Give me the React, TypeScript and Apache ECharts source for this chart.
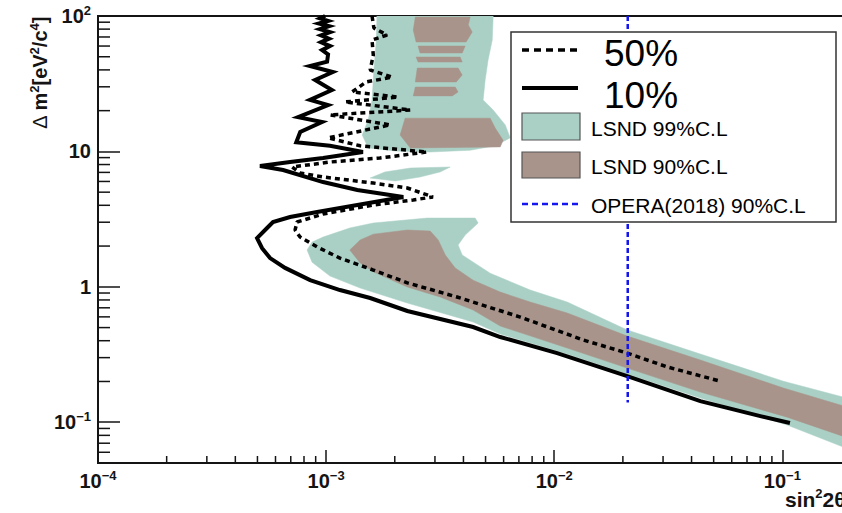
import React, { useEffect, useRef } from "react";
import * as echarts from "echarts";

// ---------- data (sin^2 2θ , Δm^2) ----------
const xMinorTicks = [2e-4, 3e-4, 4e-4, 5e-4, 6e-4, 7e-4, 8e-4, 9e-4, 2e-3, 3e-3, 4e-3, 5e-3, 6e-3, 7e-3, 8e-3, 9e-3, 0.02, 0.03, 0.04, 0.05, 0.06, 0.07, 0.08, 0.09];
const yMinorTicks = [0.06, 0.07, 0.08, 0.09, 0.2, 0.3, 0.4, 0.5, 0.6, 0.7, 0.8, 0.9, 2, 3, 4, 5, 6, 7, 8, 9, 20, 30, 40, 50, 60, 70, 80, 90];

const solid10: [number, number][] = [
  [9.9e-4, 100], [9.4e-4, 96], [1.02e-3, 92], [9.3e-4, 88], [1.03e-3, 84], [9.4e-4, 80], [1.04e-3, 76],
  [9.5e-4, 72], [1.03e-3, 68], [9.5e-4, 64], [1.04e-3, 60], [9.6e-4, 56], [1.02e-3, 52], [1.01e-3, 46],
  [8.5e-4, 42.7], [1.07e-3, 38.6], [8.95e-4, 33.7], [1.06e-3, 28.4], [8.5e-4, 24.0], [1.02e-3, 22.0],
  [7.54e-4, 17.9], [9.6e-4, 16.5], [7.7e-4, 13.9], [7.4e-4, 11.7], [1.04e-3, 11.0], [1.45e-3, 9.9],
  [9.7e-4, 8.94], [6.95e-4, 8.35], [5.13e-4, 7.8], [6.48e-4, 7.29], [9.7e-4, 5.94], [1.37e-3, 5.19],
  [2.18e-3, 4.61], [1.37e-3, 4.02], [9.13e-4, 3.57], [6.95e-4, 3.28], [5.85e-4, 3.01], [5.51e-4, 2.72],
  [4.98e-4, 2.29], [5.24e-4, 1.93], [5.68e-4, 1.63], [6.61e-4, 1.38], [8.51e-4, 1.12], [1.15e-3, 0.947],
  [1.56e-3, 0.827], [2.27e-3, 0.663], [4.41e-3, 0.505], [5.8e-3, 0.426], [0.0103, 0.324], [0.0209, 0.219],
  [0.0437, 0.143], [0.0801, 0.111], [0.108, 0.0987],
];

const dotted50: [number, number][] = [
  [1.59e-3, 100], [1.62e-3, 81.5], [1.85e-3, 72.4], [1.59e-3, 66.5], [1.61e-3, 51.5], [1.56e-3, 39.9],
  [1.95e-3, 35.4], [1.5e-3, 32.6], [1.3e-3, 27.5], [2.07e-3, 25.2], [1.21e-3, 23.2], [2.34e-3, 20.2],
  [1.04e-3, 18.6], [1.91e-3, 15.7], [1.02e-3, 12.6], [1.41e-3, 11.0], [2.77e-3, 9.9], [1.72e-3, 8.94],
  [1.04e-3, 8.35], [7.1e-4, 7.67], [7.69e-4, 6.93], [9.7e-4, 6.47], [1.61e-3, 5.84], [2.27e-3, 5.37],
  [2.94e-3, 4.61], [2.41e-3, 4.38], [1.61e-3, 4.02], [9.7e-4, 3.45], [7.46e-4, 3.01], [7.31e-4, 2.63],
  [7.69e-4, 2.33], [9.13e-4, 1.97], [1.15e-3, 1.63], [1.61e-3, 1.33], [2.27e-3, 1.07], [3.75e-3, 0.841],
  [7.1e-3, 0.598], [0.0134, 0.405], [0.0209, 0.324], [0.0313, 0.256], [0.0535, 0.201],
];

const lsnd99Top: [number, number][] = [
  [1.67e-3, 100], [5.4e-3, 100], [5.35e-3, 66.5], [5.13e-3, 47.3], [4.98e-3, 33.7], [4.88e-3, 24.0],
  [5.4e-3, 20.2], [6.1e-3, 15.7], [6.41e-3, 12.6], [5.51e-3, 11.0], [4.28e-3, 10.2], [2.86e-3, 9.9],
  [2.01e-3, 10.07], [1.53e-3, 10.6], [1.44e-3, 13.2], [1.53e-3, 17.1], [1.59e-3, 24.0], [1.62e-3, 39.9],
  [1.66e-3, 66.5],
];
const lsnd99Island: [number, number][] = [
  [1.56e-3, 6.36], [1.81e-3, 7.05], [2.34e-3, 7.54], [3.5e-3, 7.67], [3.16e-3, 7.05], [2.58e-3, 6.47], [2.01e-3, 6.05],
];
const lsnd99Main: [number, number][] = [
  [8.25e-4, 1.87], [8.68e-4, 2.14], [9.7e-4, 2.33], [1.27e-3, 2.72], [1.61e-3, 2.96], [2.77e-3, 3.22],
  [4.5e-3, 3.22], [4.64e-3, 2.96], [4.07e-3, 2.41], [3.79e-3, 2.04], [3.95e-3, 1.72], [5.24e-3, 1.26],
  [7.85e-3, 0.947], [0.0114, 0.772], [0.0209, 0.48], [0.0437, 0.319], [0.101, 0.201], [0.2, 0.148],
  [0.2, 0.0623], [0.105, 0.0954], [0.0437, 0.151], [0.0209, 0.227], [0.0114, 0.319], [5.8e-3, 0.448],
  [4.41e-3, 0.55], [2.27e-3, 0.759], [1.41e-3, 0.98], [1.04e-3, 1.2], [8.68e-4, 1.52],
];
const lsnd90Stripes: [number, number][][] = [
  [[2.46e-3, 98.3], [4.28e-3, 98.3], [4.2e-3, 85.8], [4.37e-3, 76.2], [4.11e-3, 64.3], [2.48e-3, 64.3], [2.41e-3, 78.8]],
  [[2.53e-3, 60.0], [4.07e-3, 60.0], [3.95e-3, 53.3], [2.58e-3, 53.3]],
  [[2.48e-3, 49.8], [3.87e-3, 49.8], [3.95e-3, 45.7], [2.53e-3, 45.7]],
  [[2.51e-3, 41.3], [3.79e-3, 41.3], [3.95e-3, 36.7], [3.72e-3, 32.6], [2.46e-3, 32.6]],
  [[2.46e-3, 29.9], [3.68e-3, 29.9], [3.79e-3, 27.5], [3.57e-3, 25.7], [2.41e-3, 25.7]],
  [[2.22e-3, 17.6], [5.24e-3, 17.6], [5.51e-3, 14.9], [5.97e-3, 12.1], [5.8e-3, 10.8], [2.34e-3, 10.6], [2.11e-3, 13.2]],
];
const lsnd90Main: [number, number][] = [
  [1.27e-3, 1.87], [1.41e-3, 2.22], [1.61e-3, 2.45], [2.27e-3, 2.63], [2.86e-3, 2.58], [3.1e-3, 2.22],
  [3.33e-3, 1.72], [3.68e-3, 1.38], [4.41e-3, 1.12], [5.8e-3, 0.915], [7.85e-3, 0.772], [0.0114, 0.641],
  [0.0209, 0.433], [0.0437, 0.288], [0.101, 0.179], [0.2, 0.127], [0.2, 0.0752], [0.105, 0.109],
  [0.0437, 0.167], [0.0209, 0.251], [0.0114, 0.353], [5.8e-3, 0.513], [4.41e-3, 0.674], [3.16e-3, 0.841],
  [2.27e-3, 0.997], [1.61e-3, 1.29], [1.41e-3, 1.5],
];
const operaLine: [number, number][] = [[0.021, 100], [0.021, 0.14]];

const legendLabels = ["50%", "10%", "LSND 99%C.L", "LSND 90%C.L", "OPERA(2018) 90%C.L"];

// ---------- styles ----------
const FONT = "'Liberation Sans', Arial, Helvetica, sans-serif";
const TEAL = "#aad0c6";
const BROWN = "#a8948a";
const BLUE = "#1515f0";
const INK = "#141414";

function polySeries(polys: [number, number][][], color: string) {
  return {
    type: "custom",
    coordinateSystem: "cartesian2d",
    silent: true,
    clip: true,
    data: polys.map((p, i) => [p[0][0], p[0][1], i]),
    renderItem: (_params: any, api: any) => {
      const idx = api.value(2);
      const pts = polys[idx].map((pt) => api.coord(pt));
      return { type: "polygon", shape: { points: pts }, style: { fill: color, stroke: color, lineWidth: 0.5 } };
    },
  };
}

const richAxis = {
  b: { fontSize: 20, fontWeight: "bold", fontFamily: FONT, color: INK, lineHeight: 24 },
  s: { fontSize: 13, fontWeight: "bold", fontFamily: FONT, color: INK, lineHeight: 14, verticalAlign: "top" },
};

function decadeLabel(v: number) {
  const l = Math.log10(v);
  const e = Math.round(l);
  if (Math.abs(l - e) > 0.01) return "";
  if (e === 0) return "{b|1}";
  if (e === 1) return "{b|10}";
  return `{b|10}{s|${e < 0 ? "\u2212" : ""}${Math.abs(e)}}`;
}

export default function App() {
  const ref = useRef<HTMLDivElement>(null);
  useEffect(() => {
    if (!ref.current) return;
    const chart = echarts.init(ref.current, undefined, { renderer: "svg" });
    const option: any = {
      animation: false,
      backgroundColor: "#ffffff",
      grid: {
        left: 98, top: 16, right: -9, bottom: 50,
        show: true, borderColor: INK, borderWidth: 2,
        containLabel: false, outerBoundsMode: "none",
      },
      xAxis: {
        type: "log", logBase: 10, min: 1e-4, max: 0.2,
        axisLine: { show: true, lineStyle: { color: INK, width: 2 } },
        axisTick: { show: true, inside: true, length: 13, lineStyle: { color: INK, width: 1.5 } },
        axisLabel: { formatter: decadeLabel, rich: richAxis, margin: 6, showMaxLabel: false, color: INK },
        splitLine: { show: false },
      },
      yAxis: {
        type: "log", logBase: 10, min: 0.05, max: 100,
        axisLine: { show: true, lineStyle: { color: INK, width: 2 } },
        axisTick: { show: true, inside: true, length: 22, lineStyle: { color: INK, width: 1.5 } },
        axisLabel: { formatter: decadeLabel, rich: richAxis, margin: 7, showMinLabel: false, color: INK },
        splitLine: { show: false },
      },
      series: [
        polySeries([lsnd99Top, lsnd99Island, lsnd99Main], TEAL),
        polySeries([...lsnd90Stripes, lsnd90Main], BROWN),
        {
          type: "custom", coordinateSystem: "cartesian2d", silent: true,
          data: yMinorTicks.map((v) => [1e-4, v]),
          renderItem: (_p: any, api: any) => {
            const c = api.coord([api.value(0), api.value(1)]);
            return { type: "line", shape: { x1: c[0], y1: c[1], x2: c[0] + 12, y2: c[1] }, style: { stroke: INK, lineWidth: 1.5 } };
          },
        },
        {
          type: "custom", coordinateSystem: "cartesian2d", silent: true,
          data: xMinorTicks.map((v) => [v, 0.05]),
          renderItem: (_p: any, api: any) => {
            const c = api.coord([api.value(0), api.value(1)]);
            return { type: "line", shape: { x1: c[0], y1: c[1], x2: c[0], y2: c[1] - 7 }, style: { stroke: INK, lineWidth: 1.5 } };
          },
        },
        {
          name: "10%", type: "line", data: solid10, showSymbol: false, symbol: "none", silent: true,
          lineStyle: { color: "#000", width: 4, join: "miter" },
        },
        {
          name: "50%", type: "line", data: dotted50, showSymbol: false, symbol: "none", silent: true,
          lineStyle: { color: "#000", width: 3.5, type: [5, 4] },
        },
        {
          name: "OPERA", type: "line", data: operaLine, showSymbol: false, symbol: "none", silent: true,
          lineStyle: { color: BLUE, width: 2.5, type: [5, 3] },
        },
      ],
      graphic: [
        {
          type: "text", x: 40, y: 73, rotation: Math.PI / 2, z: 50,
          style: {
            text: "{d|\u0394 }{t|m}{u|2}{t|[eV}{u|2}{t|/c}{u|4}{t|]}",
            align: "center", verticalAlign: "middle",
            rich: {
              d: { fontSize: 20, fontWeight: "normal", fontFamily: FONT, fill: INK, lineHeight: 24 },
              t: { fontSize: 20, fontWeight: "bold", fontFamily: FONT, fill: INK, lineHeight: 24 },
              u: { fontSize: 13, fontWeight: "bold", fontFamily: FONT, fill: INK, lineHeight: 14, verticalAlign: "top" },
            },
          },
        },
        {
          type: "text", x: 785, y: 499, z: 50,
          style: {
            text: "{t|sin}{u|2}{t|2\u03b8}",
            align: "left", verticalAlign: "middle",
            rich: {
              t: { fontSize: 21, fontWeight: "bold", fontFamily: FONT, fill: INK, lineHeight: 24 },
              u: { fontSize: 13, fontWeight: "bold", fontFamily: FONT, fill: INK, lineHeight: 14, verticalAlign: "top" },
            },
          },
        },
        // legend
        { type: "rect", z: 100, shape: { x: 511, y: 32, width: 325, height: 190 }, style: { fill: "#fff", stroke: "#333", lineWidth: 1.5 } },
        { type: "line", z: 101, shape: { x1: 522, y1: 50, x2: 578, y2: 50 }, style: { stroke: "#000", lineWidth: 3.5, lineDash: [7, 5] } },
        { type: "text", z: 101, x: 604, y: 53, style: { text: legendLabels[0], fontSize: 37, fontFamily: FONT, fill: "#000", align: "left", verticalAlign: "middle" } },
        { type: "line", z: 101, shape: { x1: 522, y1: 88, x2: 578, y2: 88 }, style: { stroke: "#000", lineWidth: 4 } },
        { type: "text", z: 101, x: 604, y: 95, style: { text: legendLabels[1], fontSize: 37, fontFamily: FONT, fill: "#000", align: "left", verticalAlign: "middle" } },
        { type: "rect", z: 101, shape: { x: 522, y: 113, width: 58, height: 27 }, style: { fill: TEAL, stroke: "#555", lineWidth: 1.2 } },
        { type: "text", z: 101, x: 591, y: 128, style: { text: legendLabels[2], fontSize: 21, fontFamily: FONT, fill: "#000", align: "left", verticalAlign: "middle" } },
        { type: "rect", z: 101, shape: { x: 522, y: 152, width: 58, height: 26 }, style: { fill: BROWN, stroke: "#555", lineWidth: 1.2 } },
        { type: "text", z: 101, x: 591, y: 166, style: { text: legendLabels[3], fontSize: 21, fontFamily: FONT, fill: "#000", align: "left", verticalAlign: "middle" } },
        { type: "line", z: 101, shape: { x1: 522, y1: 204, x2: 578, y2: 204 }, style: { stroke: BLUE, lineWidth: 2.5, lineDash: [6, 4] } },
        { type: "text", z: 101, x: 591, y: 205, style: { text: legendLabels[4], fontSize: 21, fontFamily: FONT, fill: "#000", align: "left", verticalAlign: "middle" } },
      ],
    };
    chart.setOption(option);
    return () => chart.dispose();
  }, []);
  return (
    <div
      ref={ref}
      style={{ position: "fixed", left: 0, top: 0, width: 842, height: 513, background: "#fff" }}
    />
  );
}
